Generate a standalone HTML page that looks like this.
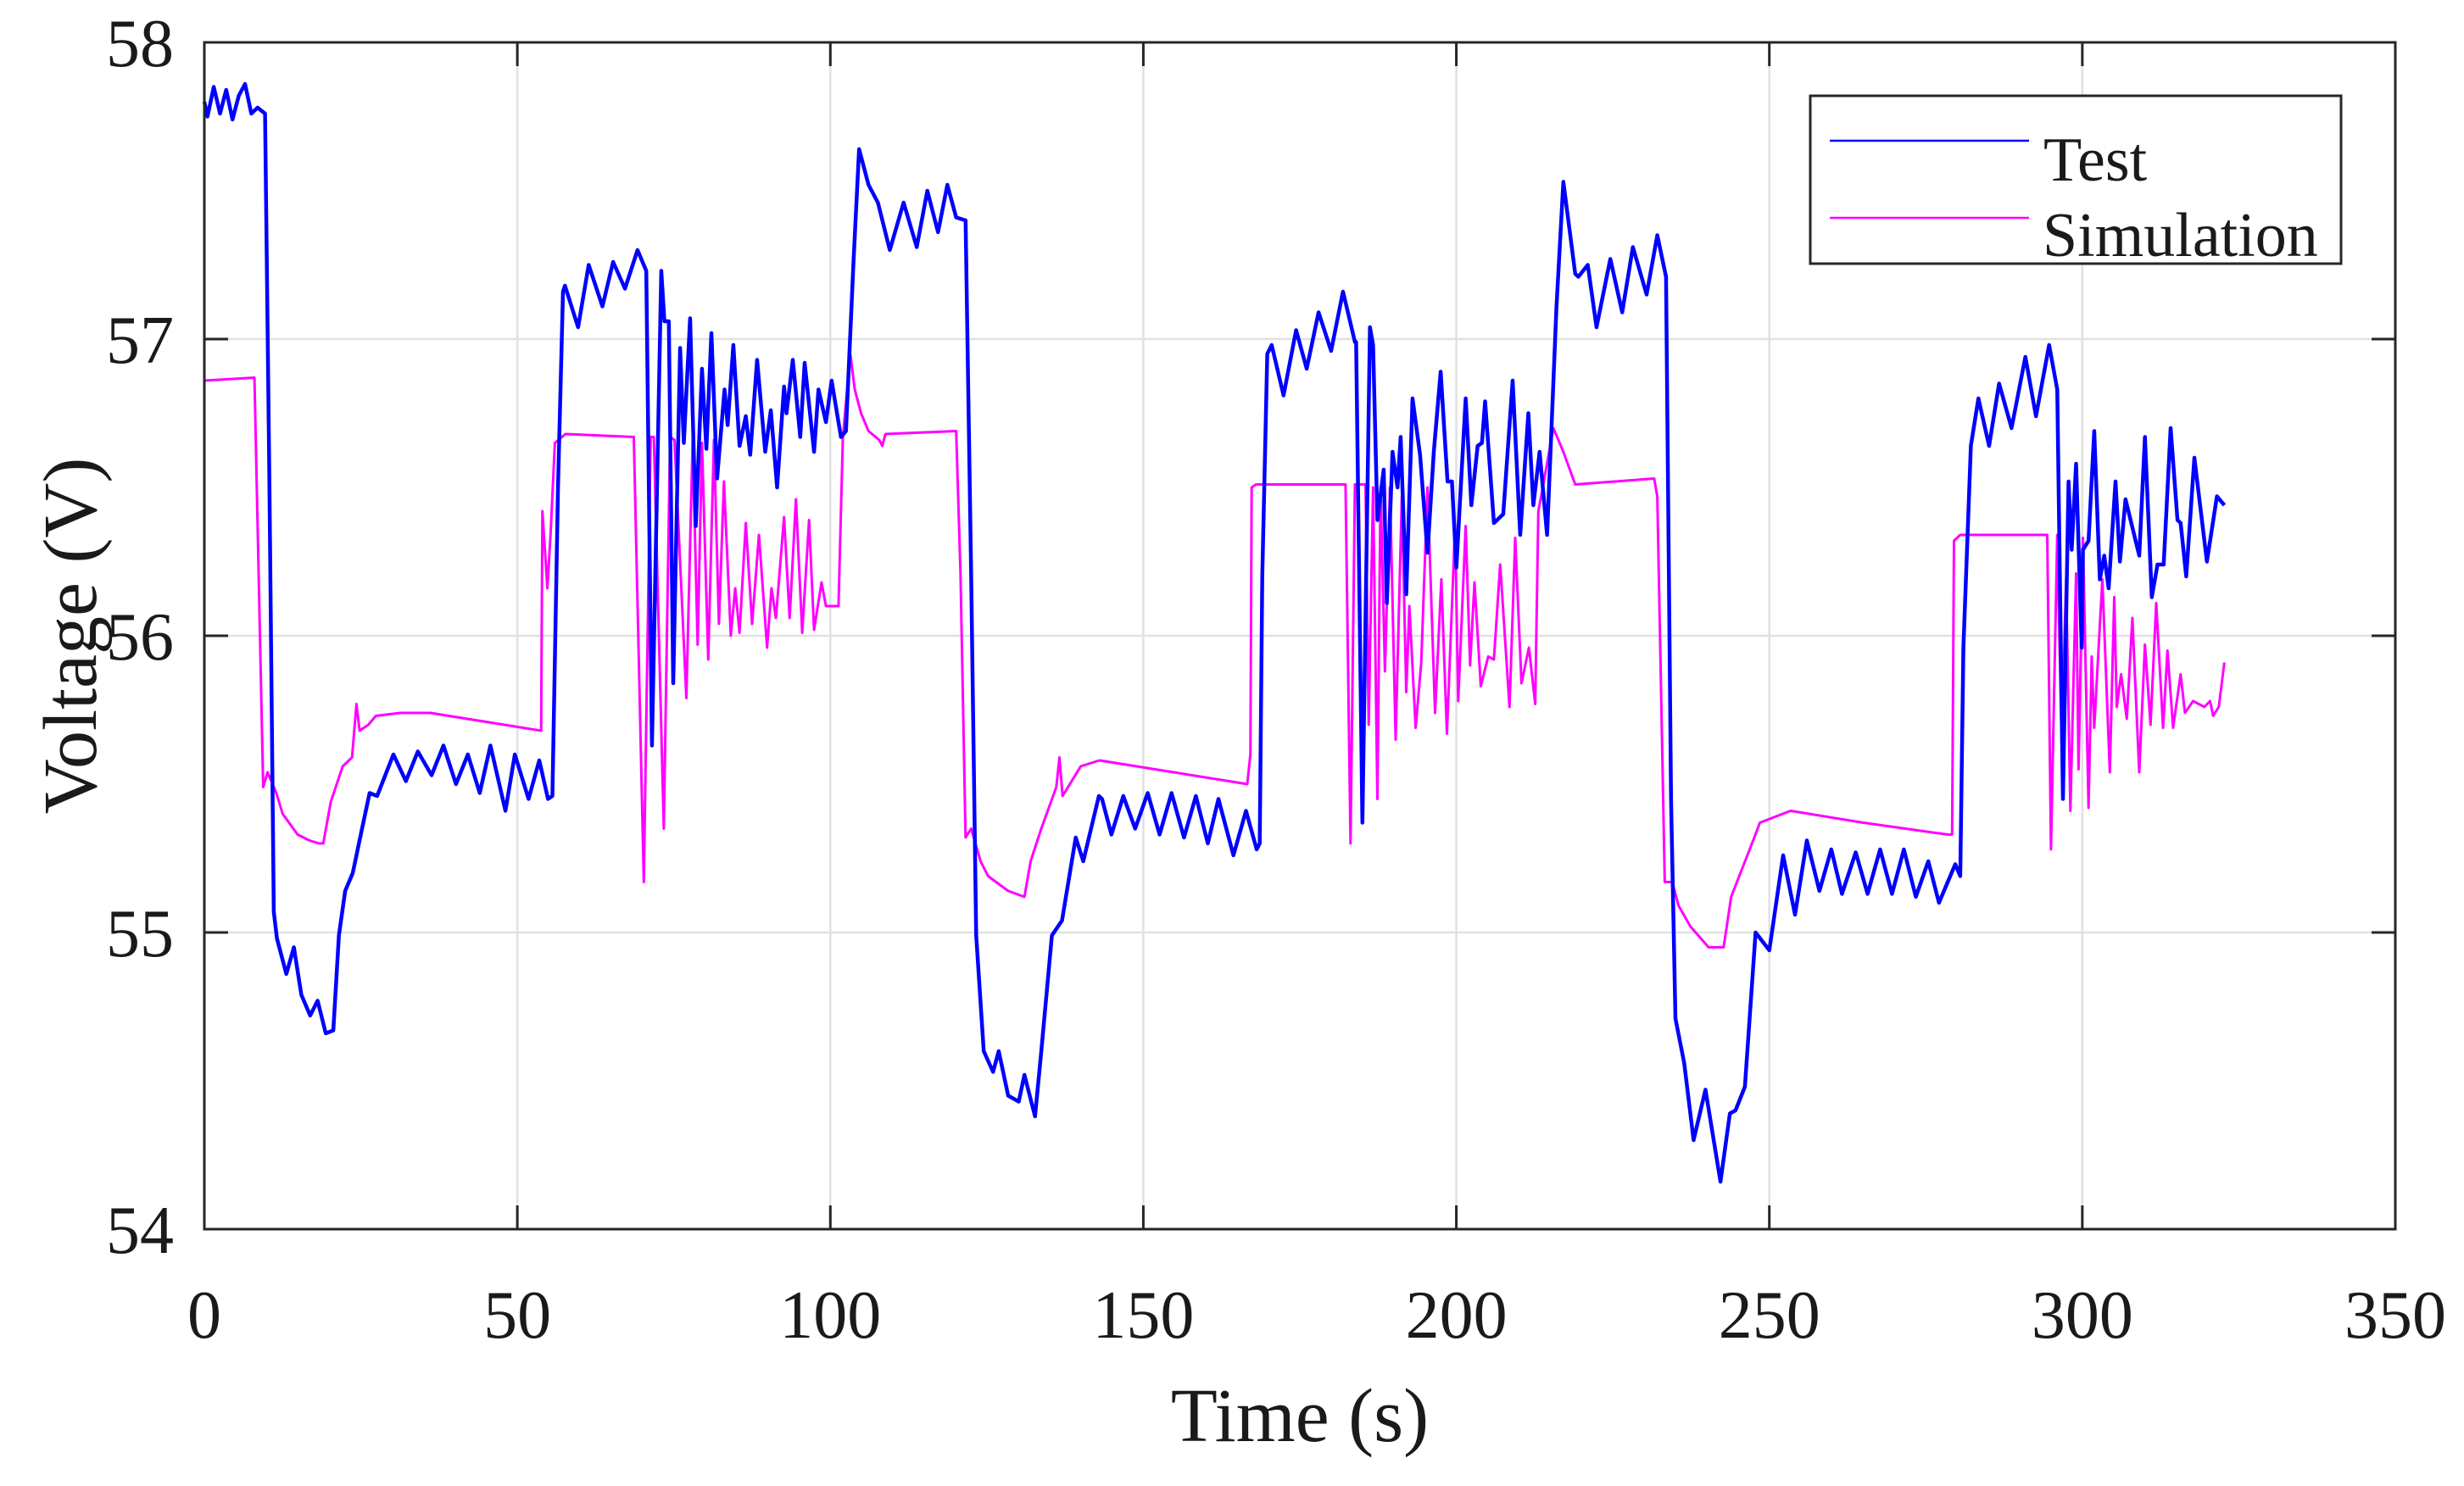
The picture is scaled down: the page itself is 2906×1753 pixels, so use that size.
<!DOCTYPE html>
<html><head><meta charset="utf-8"><style>
html,body{margin:0;padding:0;background:#fff;}
svg{display:block;}
text{font-family:"Liberation Serif",serif;fill:#1a1a1a;}
</style></head><body>
<svg id="chart" width="2906" height="1753" viewBox="0 0 2906 1753" xmlns="http://www.w3.org/2000/svg">
<rect x="0" y="0" width="2906" height="1753" fill="#fff"/>
<g id="grid"></g>
<g id="series"></g>
<g id="axes"></g>
<text x="1533" y="1700" font-size="90" text-anchor="middle">Time (s)</text>
<text transform="translate(113,750) rotate(-90)" font-size="90" text-anchor="middle">Voltage (V)</text>
<g>
<rect x="2135" y="113" width="626" height="198" fill="#fff" stroke="#262626" stroke-width="3"/>
<line x1="2158" y1="166" x2="2393" y2="166" stroke="#0000ff" stroke-width="2.5"/>
<text x="2410" y="213" font-size="74">Test</text>
<line x1="2158" y1="257" x2="2393" y2="257" stroke="#ff00ff" stroke-width="2.5"/>
<text x="2409" y="302" font-size="74">Simulation</text>
</g>
</svg>
<script>
const xTicks=[0,50,100,150,200,250,300,350];
const yTicks=[54,55,56,57,58];
const testT=[0,0.5,1.5,2.5,3.5,4.5,5.5,6.5,7.5,8.5,9.7,10.4,11.1,11.6,13.1,14.3,15.5,16.9,18.1,19.4,20.6,21.5,22.5,23.7,25.2,26.4,27.6,30.2,32.2,34.1,36.3,38.2,40.2,42.1,44,45.7,48.1,49.6,51.8,53.5,54.9,55.6,56.5,57.3,57.6,59.7,61.4,63.6,65.3,67.2,69.2,70.6,71.5,73,73.5,74.2,74.9,76,76.6,77.6,78.5,79.5,80.2,81,81.9,83.1,83.6,84.5,85.5,86.5,87.2,88.3,89.6,90.5,91.5,92.6,93,94,95.2,95.9,97.4,98.1,99.3,100.2,101.7,102.5,103.7,104.6,106.1,107.6,109.5,111.7,113.8,115.5,117.2,118.7,120.1,121.6,122.5,123.3,124.5,126,126.9,128.4,130.1,131,132.7,133.7,135.4,137,139.2,140.4,142.9,143.4,144.9,146.8,148.7,150.7,152.6,154.5,156.5,158.4,160.3,162,164.4,166.4,168.1,168.6,169,169.8,170.5,172.4,174.4,176.1,178,180,181.9,183.8,184,185,186.2,186.7,187.4,188.4,188.9,189.8,190.6,191.1,192,193,194.2,195.4,196.4,197.5,198.6,199.3,200,201.5,202.4,203.4,204.1,204.6,206,207.5,209,210.2,211.5,212.3,213.3,214.5,216,217.1,219,219.5,221,222.4,224.6,226.5,228.2,230.4,232.1,233.5,234.3,235,236.4,237.9,239.8,242.2,243.7,244.6,246.1,247.8,250,252.2,254.1,256,258,259.9,261.6,263.8,265.7,267.7,269.6,271.5,273.4,275.4,277.1,279.7,280.5,281,282.2,283.4,285.1,286.7,288.7,290.9,292.6,294.7,296,296.9,297.8,298.3,299,299.9,300.1,301,301.9,302.8,303.5,304.2,305.3,306,306.9,309.1,310,311.1,312,313,314.1,315.2,315.7,316.6,317.9,319.9,321.5,322.7];
const testV=[57.8,57.75,57.85,57.76,57.84,57.74,57.82,57.86,57.76,57.78,57.76,56.5,55.07,54.98,54.86,54.95,54.79,54.72,54.77,54.66,54.67,54.99,55.14,55.2,55.35,55.47,55.46,55.6,55.51,55.61,55.53,55.63,55.5,55.6,55.47,55.63,55.41,55.6,55.45,55.58,55.45,55.46,56.5,57.16,57.18,57.04,57.25,57.11,57.26,57.17,57.3,57.23,55.63,57.23,57.06,57.06,55.84,56.97,56.65,57.07,56.37,56.9,56.63,57.02,56.53,56.83,56.71,56.98,56.64,56.74,56.61,56.93,56.62,56.76,56.5,56.84,56.75,56.93,56.67,56.92,56.62,56.83,56.72,56.86,56.67,56.69,57.26,57.64,57.52,57.46,57.3,57.46,57.31,57.5,57.36,57.52,57.41,57.4,56.2,54.99,54.6,54.53,54.6,54.45,54.43,54.52,54.38,54.6,54.99,55.04,55.32,55.24,55.46,55.45,55.33,55.46,55.35,55.47,55.33,55.47,55.32,55.46,55.3,55.45,55.26,55.41,55.28,55.3,56.2,56.95,56.98,56.81,57.03,56.9,57.09,56.96,57.16,56.99,56.99,55.37,57.04,56.98,56.39,56.56,56.11,56.62,56.5,56.67,56.14,56.8,56.61,56.28,56.62,56.89,56.52,56.52,56.23,56.8,56.44,56.64,56.65,56.79,56.38,56.41,56.86,56.34,56.75,56.44,56.62,56.34,57.11,57.53,57.22,57.21,57.25,57.04,57.27,57.09,57.31,57.15,57.35,57.21,55.45,54.71,54.56,54.3,54.47,54.16,54.39,54.4,54.48,55,54.94,55.26,55.06,55.31,55.14,55.28,55.13,55.27,55.13,55.28,55.13,55.28,55.12,55.24,55.1,55.23,55.19,55.96,56.64,56.8,56.64,56.85,56.7,56.94,56.74,56.98,56.83,55.45,56.52,56.29,56.58,55.96,56.29,56.32,56.69,56.19,56.27,56.16,56.52,56.25,56.46,56.27,56.67,56.13,56.24,56.24,56.7,56.39,56.38,56.2,56.6,56.25,56.47,56.44];
const simT=[0,8,9.4,10.1,11.5,12.5,14.9,16.8,18.3,19,20.2,22.1,23.6,24.3,24.8,26.2,27.4,31.3,36.1,53.8,54,54.8,55.3,56,57.7,68.6,70.2,71.3,71.8,73.4,74.4,75.1,77,78,78.8,79.5,80.5,81.4,82.2,83,84.1,84.8,85.5,86.5,87.5,88.6,89.9,90.6,91.3,92.6,93.5,94.5,95.5,96.6,97.4,98.6,99.3,101.3,102,103.2,103.9,104.9,106.1,107.8,108.3,108.8,120.1,120.8,121.6,122.5,124,125.2,128.4,131,132,133.7,136.1,136.6,137.1,140,143,166.6,167.1,167.3,168,182.3,183.1,183.8,185.5,186,186.7,187.4,187.9,188.6,189.4,190.3,191.3,192,192.5,193.5,194.4,195.4,196.6,197.6,198.5,199.8,200.3,201.5,202.2,202.9,203.9,205.1,206,207,208.5,209.4,210.4,211.6,212.6,213.1,213.8,215.5,217.1,219,231.6,232.1,233.3,234.5,235.5,237.4,240.3,242.7,243.9,247.6,248.5,253.4,265,278.5,279.2,279.5,280.5,294.4,295,296,296.7,297.4,298.1,299,299.4,300.1,301,301.5,301.9,303.2,304.4,305.1,305.5,306.2,307.1,308,309.1,310,310.9,311.8,312.9,313.6,314.5,315.7,316.4,317.7,319.5,320.4,320.9,321.8,322.7];
const simV=[56.86,56.87,55.49,55.54,55.47,55.4,55.33,55.31,55.3,55.3,55.44,55.56,55.59,55.77,55.68,55.7,55.73,55.74,55.74,55.68,56.42,56.16,56.34,56.65,56.68,56.67,55.17,56.67,56.67,55.35,56.67,56.66,55.79,56.66,55.97,56.65,55.92,56.66,56.04,56.52,56,56.16,56.01,56.38,56.04,56.34,55.96,56.16,56.06,56.4,56.06,56.46,56.01,56.39,56.02,56.18,56.1,56.1,56.67,56.95,56.83,56.75,56.69,56.66,56.64,56.68,56.69,56.21,55.32,55.35,55.24,55.19,55.14,55.12,55.24,55.35,55.49,55.59,55.46,55.56,55.58,55.5,55.6,56.5,56.51,56.51,55.3,56.51,56.51,55.7,56.5,55.45,56.5,55.88,56.5,55.65,56.47,55.81,56.1,55.69,55.91,56.5,55.74,56.19,55.67,56.37,55.78,56.37,55.9,56.18,55.83,55.93,55.92,56.24,55.76,56.33,55.84,55.96,55.77,56.42,56.5,56.7,56.62,56.51,56.53,56.47,55.17,55.17,55.09,55.02,54.95,54.95,55.12,55.32,55.37,55.41,55.37,55.33,55.33,56.32,56.34,56.34,55.28,56.34,55.63,56.19,55.41,56.21,55.55,56.33,55.42,55.93,55.69,56.19,55.54,56.13,55.76,55.87,55.72,56.06,55.54,55.97,55.7,56.11,55.69,55.95,55.69,55.87,55.74,55.78,55.76,55.78,55.73,55.76,55.91];

const L=241,R=2825,T=50,B=1450,X0=0,X1=350,Y0=54,Y1=58;
function sx(v){return L+(v-X0)/(X1-X0)*(R-L);}
function sy(v){return B-(v-Y0)/(Y1-Y0)*(B-T);}
const NS='http://www.w3.org/2000/svg';
function mk(tag,attrs,parent){const e=document.createElementNS(NS,tag);for(const k in attrs)e.setAttribute(k,attrs[k]);parent.appendChild(e);return e;}
const grid=document.getElementById('grid'),axes=document.getElementById('axes'),series=document.getElementById('series');
xTicks.forEach(v=>{
  if(v>X0&&v<X1){const g=mk('line',{x1:sx(v),y1:T,x2:sx(v),y2:B,stroke:'#e1e1e1','stroke-width':2.5},grid);
  
  }
  const t1=mk('line',{x1:sx(v),y1:B,x2:sx(v),y2:B-28,stroke:'#262626','stroke-width':3},axes);
  
  
  const t2=mk('line',{x1:sx(v),y1:T,x2:sx(v),y2:T+28,stroke:'#262626','stroke-width':3},axes);
  
  
  const tx=mk('text',{x:sx(v),y:B+128,'font-size':80,'text-anchor':'middle'},axes);
  tx.textContent=v;
  
  
});
yTicks.forEach(v=>{
  if(v>Y0&&v<Y1){const g=mk('line',{x1:L,y1:sy(v),x2:R,y2:sy(v),stroke:'#e1e1e1','stroke-width':2.5},grid);
  
  }
  const t1=mk('line',{x1:L,y1:sy(v),x2:L+28,y2:sy(v),stroke:'#262626','stroke-width':3},axes);
  
  
  const t2=mk('line',{x1:R,y1:sy(v),x2:R-28,y2:sy(v),stroke:'#262626','stroke-width':3},axes);
  
  
  const tx=mk('text',{x:L-36,y:sy(v)+28,'font-size':80,'text-anchor':'end'},axes);
  tx.textContent=v;
  
  
});
const frame=mk('rect',{x:L,y:T,width:R-L,height:B-T,fill:'none',stroke:'#262626','stroke-width':3},axes);


function path(ts,vs){return ts.map((t,i)=>(i?'L':'M')+sx(t).toFixed(1)+' '+sy(vs[i]).toFixed(1)).join(' ');}
const ps=mk('path',{d:path(simT,simV),fill:'none',stroke:'#ff00ff','stroke-width':3,'stroke-linejoin':'round'},series);


const pt=mk('path',{d:path(testT,testV),fill:'none',stroke:'#0000ff','stroke-width':4.5,'stroke-linejoin':'round'},series);


</script>
</body></html>
